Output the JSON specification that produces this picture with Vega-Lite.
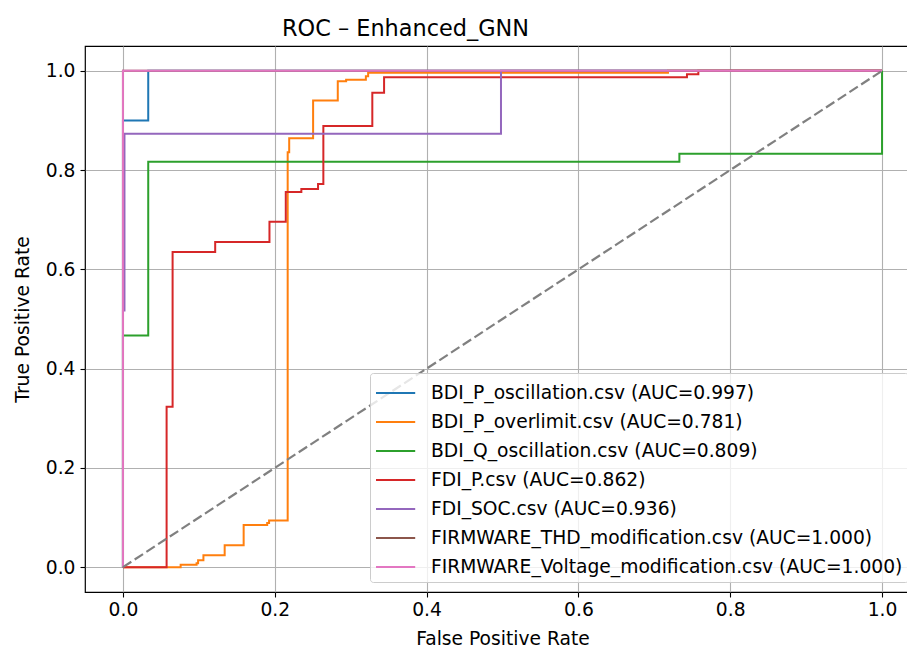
{
  "$schema": "https://vega.github.io/schema/vega-lite/v6.json",
  "width": 835,
  "height": 546,
  "autosize": {"type": "none"},
  "padding": {"left": 85, "top": 46, "right": 0, "bottom": 56},
  "background": "white",
  "title": {"text": "ROC – Enhanced_GNN", "fontSize": 22.4, "fontWeight": "normal", "font": "DejaVu Sans", "anchor": "middle", "dx": -97, "offset": 6, "color": "black"},
  "config": {
    "font": "DejaVu Sans",
    "view": {"stroke": "black", "strokeWidth": 1.2},
    "axis": {"grid": true, "gridColor": "#b0b0b0", "gridWidth": 1.1, "domain": false, "tickColor": "black", "tickSize": 5, "tickWidth": 1.1, "labelFontSize": 18.7, "labelColor": "black", "labelFont": "DejaVu Sans", "titleFont": "DejaVu Sans", "titleFontSize": 18.7, "titleFontWeight": "normal", "titleColor": "black"}
  },
  "layer": [
    {
      "data": {"values": [
        {"s": "BDI_P_oscillation.csv (AUC=0.997)", "i": 0, "x": 0, "y": 0},
        {"s": "BDI_P_oscillation.csv (AUC=0.997)", "i": 1, "x": 0, "y": 0.9},
        {"s": "BDI_P_oscillation.csv (AUC=0.997)", "i": 2, "x": 0.0333, "y": 0.9},
        {"s": "BDI_P_oscillation.csv (AUC=0.997)", "i": 3, "x": 0.0333, "y": 1},
        {"s": "BDI_P_oscillation.csv (AUC=0.997)", "i": 4, "x": 1, "y": 1},
        {"s": "BDI_P_overlimit.csv (AUC=0.781)", "i": 0, "x": 0, "y": 0},
        {"s": "BDI_P_overlimit.csv (AUC=0.781)", "i": 1, "x": 0.076, "y": 0},
        {"s": "BDI_P_overlimit.csv (AUC=0.781)", "i": 2, "x": 0.076, "y": 0.005},
        {"s": "BDI_P_overlimit.csv (AUC=0.781)", "i": 3, "x": 0.097, "y": 0.005},
        {"s": "BDI_P_overlimit.csv (AUC=0.781)", "i": 4, "x": 0.097, "y": 0.008},
        {"s": "BDI_P_overlimit.csv (AUC=0.781)", "i": 5, "x": 0.099, "y": 0.008},
        {"s": "BDI_P_overlimit.csv (AUC=0.781)", "i": 6, "x": 0.099, "y": 0.014},
        {"s": "BDI_P_overlimit.csv (AUC=0.781)", "i": 7, "x": 0.106, "y": 0.014},
        {"s": "BDI_P_overlimit.csv (AUC=0.781)", "i": 8, "x": 0.106, "y": 0.024},
        {"s": "BDI_P_overlimit.csv (AUC=0.781)", "i": 9, "x": 0.134, "y": 0.024},
        {"s": "BDI_P_overlimit.csv (AUC=0.781)", "i": 10, "x": 0.134, "y": 0.044},
        {"s": "BDI_P_overlimit.csv (AUC=0.781)", "i": 11, "x": 0.159, "y": 0.044},
        {"s": "BDI_P_overlimit.csv (AUC=0.781)", "i": 12, "x": 0.159, "y": 0.085},
        {"s": "BDI_P_overlimit.csv (AUC=0.781)", "i": 13, "x": 0.19, "y": 0.085},
        {"s": "BDI_P_overlimit.csv (AUC=0.781)", "i": 14, "x": 0.19, "y": 0.089},
        {"s": "BDI_P_overlimit.csv (AUC=0.781)", "i": 15, "x": 0.1925, "y": 0.089},
        {"s": "BDI_P_overlimit.csv (AUC=0.781)", "i": 16, "x": 0.1925, "y": 0.094},
        {"s": "BDI_P_overlimit.csv (AUC=0.781)", "i": 17, "x": 0.217, "y": 0.094},
        {"s": "BDI_P_overlimit.csv (AUC=0.781)", "i": 18, "x": 0.217, "y": 0.836},
        {"s": "BDI_P_overlimit.csv (AUC=0.781)", "i": 19, "x": 0.219, "y": 0.836},
        {"s": "BDI_P_overlimit.csv (AUC=0.781)", "i": 20, "x": 0.219, "y": 0.864},
        {"s": "BDI_P_overlimit.csv (AUC=0.781)", "i": 21, "x": 0.2505, "y": 0.864},
        {"s": "BDI_P_overlimit.csv (AUC=0.781)", "i": 22, "x": 0.2505, "y": 0.94},
        {"s": "BDI_P_overlimit.csv (AUC=0.781)", "i": 23, "x": 0.283, "y": 0.94},
        {"s": "BDI_P_overlimit.csv (AUC=0.781)", "i": 24, "x": 0.283, "y": 0.979},
        {"s": "BDI_P_overlimit.csv (AUC=0.781)", "i": 25, "x": 0.294, "y": 0.979},
        {"s": "BDI_P_overlimit.csv (AUC=0.781)", "i": 26, "x": 0.294, "y": 0.982},
        {"s": "BDI_P_overlimit.csv (AUC=0.781)", "i": 27, "x": 0.32, "y": 0.982},
        {"s": "BDI_P_overlimit.csv (AUC=0.781)", "i": 28, "x": 0.32, "y": 0.989},
        {"s": "BDI_P_overlimit.csv (AUC=0.781)", "i": 29, "x": 0.323, "y": 0.989},
        {"s": "BDI_P_overlimit.csv (AUC=0.781)", "i": 30, "x": 0.323, "y": 0.996},
        {"s": "BDI_P_overlimit.csv (AUC=0.781)", "i": 31, "x": 0.718, "y": 0.996},
        {"s": "BDI_P_overlimit.csv (AUC=0.781)", "i": 32, "x": 0.718, "y": 1},
        {"s": "BDI_P_overlimit.csv (AUC=0.781)", "i": 33, "x": 1, "y": 1},
        {"s": "BDI_Q_oscillation.csv (AUC=0.809)", "i": 0, "x": 0, "y": 0},
        {"s": "BDI_Q_oscillation.csv (AUC=0.809)", "i": 1, "x": 0, "y": 0.467},
        {"s": "BDI_Q_oscillation.csv (AUC=0.809)", "i": 2, "x": 0.0333, "y": 0.467},
        {"s": "BDI_Q_oscillation.csv (AUC=0.809)", "i": 3, "x": 0.0333, "y": 0.817},
        {"s": "BDI_Q_oscillation.csv (AUC=0.809)", "i": 4, "x": 0.733, "y": 0.817},
        {"s": "BDI_Q_oscillation.csv (AUC=0.809)", "i": 5, "x": 0.733, "y": 0.833},
        {"s": "BDI_Q_oscillation.csv (AUC=0.809)", "i": 6, "x": 1, "y": 0.833},
        {"s": "BDI_Q_oscillation.csv (AUC=0.809)", "i": 7, "x": 1, "y": 1},
        {"s": "FDI_P.csv (AUC=0.862)", "i": 0, "x": 0, "y": 0},
        {"s": "FDI_P.csv (AUC=0.862)", "i": 1, "x": 0.0575, "y": 0},
        {"s": "FDI_P.csv (AUC=0.862)", "i": 2, "x": 0.0575, "y": 0.323},
        {"s": "FDI_P.csv (AUC=0.862)", "i": 3, "x": 0.0654, "y": 0.323},
        {"s": "FDI_P.csv (AUC=0.862)", "i": 4, "x": 0.0654, "y": 0.635},
        {"s": "FDI_P.csv (AUC=0.862)", "i": 5, "x": 0.1215, "y": 0.635},
        {"s": "FDI_P.csv (AUC=0.862)", "i": 6, "x": 0.1215, "y": 0.655},
        {"s": "FDI_P.csv (AUC=0.862)", "i": 7, "x": 0.193, "y": 0.655},
        {"s": "FDI_P.csv (AUC=0.862)", "i": 8, "x": 0.193, "y": 0.696},
        {"s": "FDI_P.csv (AUC=0.862)", "i": 9, "x": 0.2145, "y": 0.696},
        {"s": "FDI_P.csv (AUC=0.862)", "i": 10, "x": 0.2145, "y": 0.756},
        {"s": "FDI_P.csv (AUC=0.862)", "i": 11, "x": 0.235, "y": 0.756},
        {"s": "FDI_P.csv (AUC=0.862)", "i": 12, "x": 0.235, "y": 0.762},
        {"s": "FDI_P.csv (AUC=0.862)", "i": 13, "x": 0.257, "y": 0.762},
        {"s": "FDI_P.csv (AUC=0.862)", "i": 14, "x": 0.257, "y": 0.772},
        {"s": "FDI_P.csv (AUC=0.862)", "i": 15, "x": 0.264, "y": 0.772},
        {"s": "FDI_P.csv (AUC=0.862)", "i": 16, "x": 0.264, "y": 0.889},
        {"s": "FDI_P.csv (AUC=0.862)", "i": 17, "x": 0.3285, "y": 0.889},
        {"s": "FDI_P.csv (AUC=0.862)", "i": 18, "x": 0.3285, "y": 0.956},
        {"s": "FDI_P.csv (AUC=0.862)", "i": 19, "x": 0.344, "y": 0.956},
        {"s": "FDI_P.csv (AUC=0.862)", "i": 20, "x": 0.344, "y": 0.987},
        {"s": "FDI_P.csv (AUC=0.862)", "i": 21, "x": 0.743, "y": 0.987},
        {"s": "FDI_P.csv (AUC=0.862)", "i": 22, "x": 0.743, "y": 0.993},
        {"s": "FDI_P.csv (AUC=0.862)", "i": 23, "x": 0.758, "y": 0.993},
        {"s": "FDI_P.csv (AUC=0.862)", "i": 24, "x": 0.758, "y": 1},
        {"s": "FDI_P.csv (AUC=0.862)", "i": 25, "x": 1, "y": 1},
        {"s": "FDI_SOC.csv (AUC=0.936)", "i": 0, "x": 0, "y": 0},
        {"s": "FDI_SOC.csv (AUC=0.936)", "i": 1, "x": 0, "y": 0.517},
        {"s": "FDI_SOC.csv (AUC=0.936)", "i": 2, "x": 0.002, "y": 0.517},
        {"s": "FDI_SOC.csv (AUC=0.936)", "i": 3, "x": 0.002, "y": 0.873},
        {"s": "FDI_SOC.csv (AUC=0.936)", "i": 4, "x": 0.498, "y": 0.873},
        {"s": "FDI_SOC.csv (AUC=0.936)", "i": 5, "x": 0.498, "y": 1},
        {"s": "FDI_SOC.csv (AUC=0.936)", "i": 6, "x": 1, "y": 1},
        {"s": "FIRMWARE_THD_modification.csv (AUC=1.000)", "i": 0, "x": 0, "y": 0},
        {"s": "FIRMWARE_THD_modification.csv (AUC=1.000)", "i": 1, "x": 0, "y": 1},
        {"s": "FIRMWARE_THD_modification.csv (AUC=1.000)", "i": 2, "x": 1, "y": 1},
        {"s": "FIRMWARE_Voltage_modification.csv (AUC=1.000)", "i": 0, "x": 0, "y": 0},
        {"s": "FIRMWARE_Voltage_modification.csv (AUC=1.000)", "i": 1, "x": 0, "y": 1},
        {"s": "FIRMWARE_Voltage_modification.csv (AUC=1.000)", "i": 2, "x": 1, "y": 1}
      ]},
      "mark": {"type": "line", "strokeWidth": 2},
      "encoding": {
        "x": {"field": "x", "type": "quantitative", "scale": {"domain": [-0.05, 1.05], "nice": false, "zero": false},
              "axis": {"title": "False Positive Rate", "values": [0, 0.2, 0.4, 0.6, 0.8, 1.0], "format": ".1f", "labelPadding": 3, "titlePadding": 11, "labelFlush": false}},
        "y": {"field": "y", "type": "quantitative", "scale": {"domain": [-0.05, 1.05], "nice": false, "zero": false},
              "axis": {"title": "True Positive Rate", "values": [0, 0.2, 0.4, 0.6, 0.8, 1.0], "format": ".1f", "labelPadding": 5, "titlePadding": 13, "labelFlush": false}},
        "order": {"field": "i", "type": "quantitative"},
        "color": {"field": "s", "type": "nominal",
          "scale": {"domain": ["BDI_P_oscillation.csv (AUC=0.997)", "BDI_P_overlimit.csv (AUC=0.781)", "BDI_Q_oscillation.csv (AUC=0.809)", "FDI_P.csv (AUC=0.862)", "FDI_SOC.csv (AUC=0.936)", "FIRMWARE_THD_modification.csv (AUC=1.000)", "FIRMWARE_Voltage_modification.csv (AUC=1.000)"],
                    "range": ["#1f77b4", "#ff7f0e", "#2ca02c", "#d62728", "#9467bd", "#8c564b", "#e377c2"]},
          "legend": {"title": null, "orient": "none", "legendX": 285, "legendY": 327, "labelFontSize": 18.7, "labelColor": "black", "labelFont": "DejaVu Sans", "labelLimit": 0,
                     "symbolType": "M-1,0H1.8", "symbolSize": 784, "symbolStrokeWidth": 2, "labelOffset": 26, "rowPadding": 4, "padding": 5,
                     "strokeColor": "#cccccc", "fillColor": "rgba(255,255,255,0.8)", "cornerRadius": 3}}
      }
    },
    {
      "data": {"values": [{"x": 0, "y": 0}, {"x": 1, "y": 1}]},
      "mark": {"type": "line", "color": "#808080", "strokeWidth": 2.2, "strokeDash": [10, 4]},
      "encoding": {
        "x": {"field": "x", "type": "quantitative"},
        "y": {"field": "y", "type": "quantitative"}
      }
    }
  ]
}
